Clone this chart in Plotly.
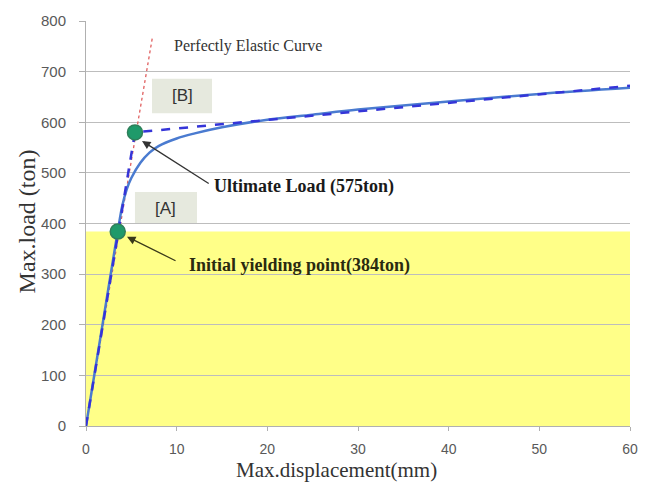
import plotly.graph_objects as go

# Load-displacement curve (solid)
disp = [0, 1.0, 2.0, 3.0, 3.5, 4.0, 4.5, 5.0, 6.0, 7.0, 8.0, 10.0, 12.0, 15.0, 20.0, 25.0, 30.0, 40.0, 50.0, 60.0]
load = [0, 110, 220, 330, 384, 435, 468, 490, 520, 540, 553, 568, 578, 590, 605, 615, 625, 641, 656, 668]

# Bilinear idealisation (dashed)
bi_disp = [0, 5.4, 60]
bi_load = [0, 580, 672]

# Perfectly elastic line (dotted)
el_disp = [0, 7.3]
el_load = [0, 765]

# Key points
pt_disp = [3.5, 5.4]
pt_load = [384, 580]
yield_load = 384

serif = "Liberation Serif, Times New Roman, serif"
sans = "Liberation Sans, Arial, sans-serif"

fig = go.Figure()
fig.add_trace(go.Scatter(x=el_disp, y=el_load, mode="lines",
                         line=dict(color="#e06060", width=1.3, dash="dot")))
fig.add_trace(go.Scatter(x=disp, y=load, mode="lines", line_shape="spline",
                         line=dict(color="#4a7bd0", width=2.5)))
fig.add_trace(go.Scatter(x=bi_disp, y=bi_load, mode="lines",
                         line=dict(color="#3535d8", width=2.5, dash="dash")))
fig.add_trace(go.Scatter(x=pt_disp, y=pt_load, mode="markers",
                         marker=dict(color="#1f9a6a", size=15, line=dict(color="#2f7f5a", width=1.5))))

# yellow region below initial yielding load
fig.add_shape(type="rect", x0=0, x1=60, y0=0, y1=yield_load, layer="below",
              line=dict(width=0), fillcolor="#ffff88")
# label boxes
fig.add_shape(type="rect", x0=7.28, x1=13.9, y0=618, y1=686, layer="below",
              line=dict(width=0), fillcolor="#e6e9de")
fig.add_shape(type="rect", x0=5.4, x1=12.24, y0=399, y1=462, layer="below",
              line=dict(width=0), fillcolor="#e6e9de")

fig.add_annotation(x=10.6, y=652, text="[B]", showarrow=False,
                   font=dict(family=sans, size=17, color="#333333"))
fig.add_annotation(x=8.8, y=430, text="[A]", showarrow=False,
                   font=dict(family=sans, size=17, color="#333333"))
fig.add_annotation(x=9.5, y=751, text="Perfectly Elastic Curve", showarrow=False,
                   xanchor="left", font=dict(family=serif, size=16, color="#333333"))

fig.add_annotation(x=6.18, y=563, ax=13.7, ay=477, axref="x", ayref="y", text="",
                   showarrow=True, arrowhead=2, arrowsize=1.3, arrowwidth=1.3, arrowcolor="#333333")
fig.add_annotation(x=4.52, y=374, ax=10.04, ay=325, axref="x", ayref="y", text="",
                   showarrow=True, arrowhead=2, arrowsize=1.3, arrowwidth=1.3, arrowcolor="#3a3a1a")
fig.add_annotation(x=13.9, y=473, text="<b>Ultimate Load (575ton)</b>", showarrow=False,
                   xanchor="left", font=dict(family=serif, size=18, color="#1a1a1a"))
fig.add_annotation(x=11.1, y=317, text="<b>Initial yielding point(384ton)</b>", showarrow=False,
                   xanchor="left", font=dict(family=serif, size=18, color="#2a2a10"))

# axis titles
fig.add_annotation(x=0.461, y=-0.109, xref="paper", yref="paper", text="Max.displacement(mm)",
                   showarrow=False, xanchor="center", yanchor="middle",
                   font=dict(family=serif, size=21, color="#333333"))
fig.add_annotation(x=-0.1085, y=0.505, xref="paper", yref="paper", text="Max.load (ton)",
                   textangle=-90, showarrow=False, xanchor="center", yanchor="middle",
                   font=dict(family=serif, size=24, color="#333333"))

fig.update_layout(
    width=651, height=486,
    margin=dict(l=86, r=21, t=17, b=60),
    paper_bgcolor="white", plot_bgcolor="white",
    showlegend=False,
)
fig.update_xaxes(range=[0, 60], dtick=10, showgrid=False, showline=True, linecolor="#b0b0b0",
                 ticks="outside", ticklen=4, tickcolor="#b0b0b0", zeroline=False,
                 ticklabelstandoff=6,
                 tickfont=dict(family=sans, size=14, color="#595959"))
fig.update_yaxes(range=[0, 800], dtick=100, showgrid=True, gridcolor="#bdbdbd", showline=True,
                 linecolor="#b0b0b0", ticks="outside", ticklen=6, tickcolor="#b0b0b0", zeroline=False,
                 ticklabelstandoff=10,
                 tickfont=dict(family=sans, size=15, color="#595959"))

fig.write_html("out.html")
